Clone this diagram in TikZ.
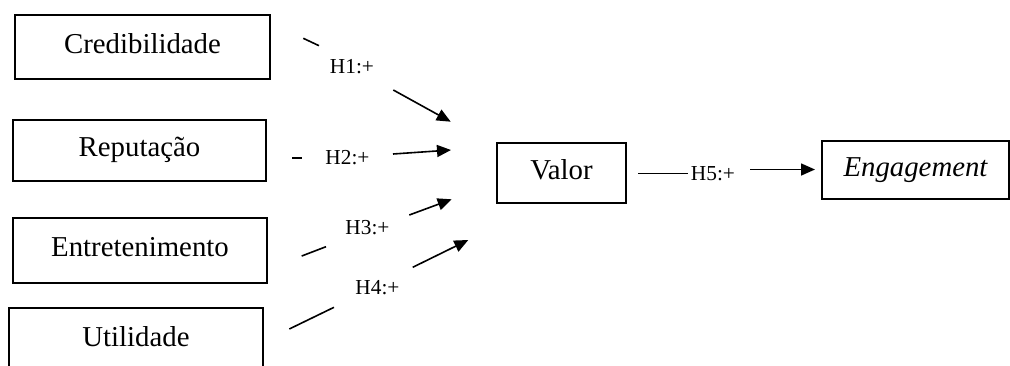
\documentclass[tikz,border=0pt]{standalone}
\usepackage{fontspec}
\setmainfont{Liberation Serif}
\usetikzlibrary{arrows.meta}
\begin{document}
\begin{tikzpicture}[x=0.75pt,y=-0.75pt,
  box/.style={draw, line width=1.1pt, inner sep=0pt,
    font=\fontsize{21.6}{26}\selectfont, text height=15pt, text depth=5.4pt},
  lbl/.style={font=\fontsize{16}{19}\selectfont, inner sep=1pt},
  link/.style={line width=1.2pt},
  arr/.style={link, -{Triangle[length=10.5pt,width=9pt]}}]
\useasboundingbox (0,0) rectangle (1010,365);
\clip (0,0) rectangle (1010,365);

% boxes
\node[box, minimum width=191.25pt, minimum height=48pt]   (cred) at (142.5,47)  {Credibilidade};
\node[box, minimum width=189.75pt, minimum height=45.75pt] (rep)  at (139.5,150.5) {Reputação};
\node[box, minimum width=190.5pt,  minimum height=48.75pt] (ent)  at (140,250.5) {Entretenimento};
\node[box, minimum width=190.5pt,  minimum height=48pt]   (uti)  at (136,340)   {Utilidade};
\node[box, minimum width=96.75pt,  minimum height=45pt]   (val)  at (561.5,173) {Valor};
\node[box, minimum width=140.25pt, minimum height=43.5pt] (eng)  at (915.5,170) {\itshape Engagement};

% H1
\coordinate (h1a) at (303.3,38.3);
\coordinate (h1b) at (319,45.7);
\node[lbl] (l1) at (352,66.5) {H1:+};
\coordinate (h1c) at (393.3,90);
\coordinate (h1d) at (450.7,121.7);
\draw[link] (h1a) -- (h1b);
\draw[arr] (h1c) -- (h1d);

% H2
\coordinate (h2a) at (292,158);
\coordinate (h2b) at (302,158);
\node[lbl] (l2) at (347.5,157.5) {H2:+};
\coordinate (h2c) at (393,154);
\coordinate (h2d) at (451,150);
\draw[link] (h2a) -- (h2b);
\draw[arr] (h2c) -- (h2d);

% H3
\coordinate (h3a) at (301.7,256);
\coordinate (h3b) at (326,246.7);
\node[lbl] (l3) at (367.5,227.5) {H3:+};
\coordinate (h3c) at (409.3,215);
\coordinate (h3d) at (451.7,199.3);
\draw[link] (h3a) -- (h3b);
\draw[arr] (h3c) -- (h3d);

% H4
\coordinate (h4a) at (289.3,329);
\coordinate (h4b) at (334,307.3);
\node[lbl] (l4) at (377.5,287.5) {H4:+};
\coordinate (h4c) at (412.7,267.3);
\coordinate (h4d) at (468.3,240);
\draw[link] (h4a) -- (h4b);
\draw[arr] (h4c) -- (h4d);

% H5
\coordinate (h5a) at (638,173.3);
\coordinate (h5b) at (688,173.3);
\node[lbl] (l5) at (713,174) {H5:+};
\coordinate (h5c) at (750,169.5);
\coordinate (h5d) at (815,169.5);
\draw[link] (h5a) -- (h5b);
\draw[arr] (h5c) -- (h5d);
\end{tikzpicture}
\end{document}
